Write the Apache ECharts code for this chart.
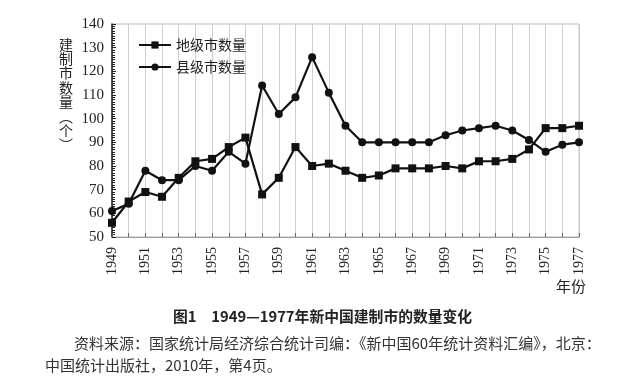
<!DOCTYPE html>
<html><head><meta charset="utf-8">
<script src="https://cdn.jsdelivr.net/npm/echarts@6/dist/echarts.min.js"></script>
<style>html,body{margin:0;padding:0;background:#fff}#c{width:633px;height:383px}</style>
</head><body><div id="c"></div>
<script>
const years = ['1949','1950','1951','1952','1953','1954','1955','1956','1957','1958','1959','1960','1961','1962','1963','1964','1965','1966','1967','1968','1969','1970','1971','1972','1973','1974','1975','1976','1977'];
const prefCities = [56,65,69,67,75,82,83,88,92,68,75,88,80,81,78,75,76,79,79,79,80,79,82,82,83,87,96,96,97];
const countyCities = [61,64,78,74,74,80,78,86,81,114,102,109,126,111,97,90,90,90,90,90,93,95,96,97,95,91,86,89,90];
const yTicks = {min:50, max:140, interval:10};
const seriesNames = ['地级市数量','县级市数量'];

const serif = 'Liberation Serif';
const cjk = '"Noto Sans CJK SC", sans-serif';
const chart = echarts.init(document.getElementById('c'));
chart.setOption({
  animation:false,
  backgroundColor:'#fff',
  grid:{left:112,right:54,top:24,bottom:146,show:true,borderColor:'#bdbdbd',borderWidth:1},
  legend:{
    orient:'vertical', left:133, top:33, itemWidth:32, itemHeight:9, itemGap:8,
    textStyle:{fontFamily:'Noto Sans CJK SC',fontSize:14,color:'#222'},
    data:seriesNames
  },
  xAxis:{
    type:'category', data:years, boundaryGap:false,
    axisLine:{lineStyle:{color:'#999',width:1}},
    axisTick:{inside:true,interval:0,length:4,lineStyle:{color:'#666'}},
    axisLabel:{interval:1,rotate:90,fontFamily:serif,fontSize:14,color:'#222',margin:10},
    splitLine:{show:true,interval:0,lineStyle:{color:'#cfcfcf',width:1}}
  },
  yAxis:{
    type:'value', min:yTicks.min, max:yTicks.max, interval:yTicks.interval,
    axisLine:{show:true,lineStyle:{color:'#222',width:1.5}},
    axisTick:{show:true,inside:true,length:4,lineStyle:{color:'#222'}},
    minorTick:{show:true,splitNumber:10,length:3,lineStyle:{color:'#222'}},
    axisLabel:{fontFamily:serif,fontSize:15,color:'#222',margin:8},
    splitLine:{show:false}
  },
  series:[
    {name:seriesNames[0],type:'line',data:prefCities,symbol:'rect',symbolSize:8,
     lineStyle:{color:'#111',width:2.2},itemStyle:{color:'#111'}},
    {name:seriesNames[1],type:'line',data:countyCities,symbol:'circle',symbolSize:8,
     lineStyle:{color:'#111',width:2.2},itemStyle:{color:'#111'}}
  ],
  graphic:[
    {type:'text',left:59,top:37,style:{text:'建\n制\n市\n数\n量\n︵\n个\n︶',font:'14px '+cjk,fill:'#222',lineHeight:14.4}},
    {type:'text',left:556,top:279,style:{text:'年份',font:'15px '+cjk,fill:'#222'}},
    {type:'text',left:173,top:309,style:{text:'图1　1949—1977年新中国建制市的数量变化',font:'bold 14.8px '+cjk,fill:'#222'}},
    {type:'text',left:74,top:336,style:{text:'资料来源：国家统计局经济综合统计司编：《新中国60年统计资料汇编》，北京：',font:'15px '+cjk,fill:'#333'}},
    {type:'text',left:45,top:358,style:{text:'中国统计出版社，2010年，第4页。',font:'15px '+cjk,fill:'#333'}}
  ]
});
</script></body></html>
